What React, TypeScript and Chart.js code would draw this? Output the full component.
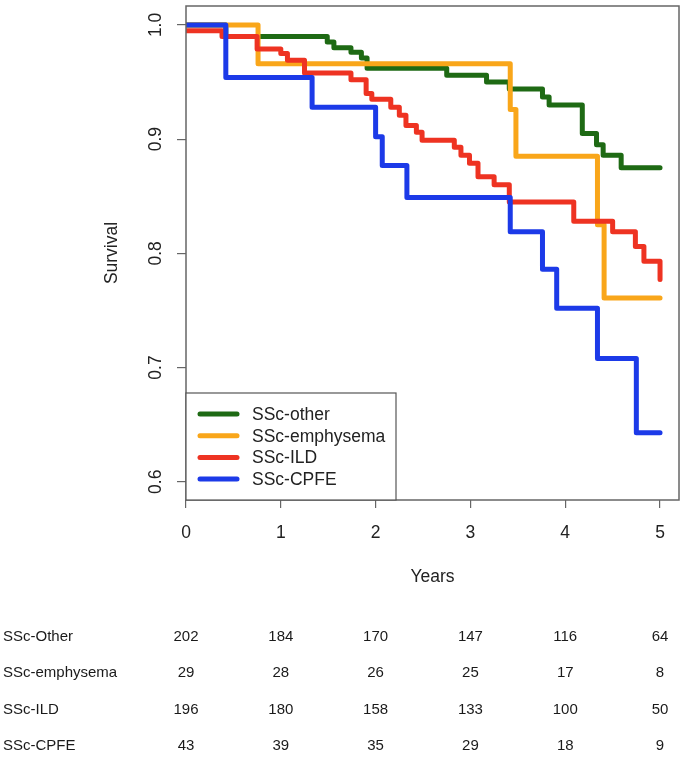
import { useEffect, useRef } from 'react';
import { Chart, registerables } from 'chart.js';

Chart.register(...registerables);

const groupNames = ['SSc-other', 'SSc-emphysema', 'SSc-ILD', 'SSc-CPFE'];
const groupColors = ['#1e6a14', '#f9a61a', '#ee3322', '#1c3ae8'];

// Kaplan-Meier steps: time (years) and survival after each step
const otherTimes = [0, 0.42, 1.49, 1.56, 1.74, 1.85, 1.91, 2.75, 3.17, 3.41, 3.76, 3.83, 4.18, 4.33, 4.4, 4.59, 5.0];
const otherSurv = [1.0, 0.99, 0.985, 0.98, 0.976, 0.971, 0.962, 0.956, 0.95, 0.944, 0.937, 0.93, 0.905, 0.895, 0.886, 0.875, 0.875];

const emphTimes = [0, 0.76, 3.42, 3.48, 4.34, 4.41, 5.0];
const emphSurv = [1.0, 0.966, 0.926, 0.885, 0.825, 0.761, 0.761];

const ildTimes = [0, 0.38, 0.75, 1.0, 1.07, 1.25, 1.74, 1.9, 1.96, 2.16, 2.25, 2.32, 2.43, 2.49, 2.83, 2.9, 2.99, 3.08, 3.25, 3.41, 4.09, 4.5, 4.74, 4.83, 5.0];
const ildSurv = [0.995, 0.99, 0.979, 0.975, 0.969, 0.958, 0.952, 0.94, 0.935, 0.928, 0.921, 0.912, 0.906, 0.899, 0.893, 0.886, 0.879, 0.867, 0.86, 0.845, 0.828, 0.819, 0.806, 0.793, 0.777];

const cpfeTimes = [0, 0.42, 1.33, 2.0, 2.07, 2.33, 3.42, 3.76, 3.91, 4.34, 4.75, 5.0];
const cpfeSurv = [1.0, 0.954, 0.928, 0.902, 0.877, 0.849, 0.819, 0.786, 0.752, 0.708, 0.643, 0.643];

const xTicks = [0, 1, 2, 3, 4, 5];
const yTicks = [0.6, 0.7, 0.8, 0.9, 1.0];
const yTickLabels = ['0.6', '0.7', '0.8', '0.9', '1.0'];

// numbers at risk
const riskLabels = ['SSc-Other', 'SSc-emphysema', 'SSc-ILD', 'SSc-CPFE'];
const riskOther = [202, 184, 170, 147, 116, 64];
const riskEmph = [29, 28, 26, 25, 17, 8];
const riskIld = [196, 180, 158, 133, 100, 50];
const riskCpfe = [43, 39, 35, 29, 18, 9];

const FONT = '"Liberation Sans", Arial, Helvetica, sans-serif';
const TEXT = '#222';

const toPoints = (t: number[], s: number[]) => t.map((x, i) => ({ x, y: s[i] }));

const decorPlugin = {
  id: 'kmDecor',
  afterDraw(chart: Chart) {
    const { ctx, chartArea } = chart;
    const xs = chart.scales.x;
    const ys = chart.scales.y;
    ctx.save();

    // frame
    ctx.strokeStyle = '#666';
    ctx.lineWidth = 1.5;
    ctx.strokeRect(chartArea.left, chartArea.top, chartArea.right - chartArea.left, chartArea.bottom - chartArea.top);

    ctx.fillStyle = TEXT;
    ctx.font = `17.5px ${FONT}`;
    ctx.textAlign = 'center';
    ctx.textBaseline = 'middle';

    // x tick labels
    xTicks.forEach((v) => {
      ctx.fillText(String(v), xs.getPixelForValue(v), 533);
    });
    // y tick labels, rotated like R
    yTicks.forEach((v, i) => {
      ctx.save();
      ctx.translate(156, ys.getPixelForValue(v));
      ctx.rotate(-Math.PI / 2);
      ctx.fillText(yTickLabels[i], 0, 0);
      ctx.restore();
    });

    // axis titles
    ctx.fillText('Years', (chartArea.left + chartArea.right) / 2, 577);
    ctx.save();
    ctx.translate(112, (chartArea.top + chartArea.bottom) / 2);
    ctx.rotate(-Math.PI / 2);
    ctx.fillText('Survival', 0, 0);
    ctx.restore();

    // legend box
    const lx = chartArea.left;
    const ly = 393;
    ctx.fillStyle = '#fff';
    ctx.fillRect(lx, ly, 210, chartArea.bottom - ly);
    ctx.strokeStyle = '#555';
    ctx.lineWidth = 1.2;
    ctx.strokeRect(lx, ly, 210, chartArea.bottom - ly);
    groupNames.forEach((name, i) => {
      const yy = 414 + i * 21.7;
      ctx.strokeStyle = groupColors[i];
      ctx.lineWidth = 5;
      ctx.lineCap = 'round';
      ctx.beginPath();
      ctx.moveTo(lx + 14, yy);
      ctx.lineTo(lx + 51, yy);
      ctx.stroke();
      ctx.fillStyle = TEXT;
      ctx.textAlign = 'left';
      ctx.fillText(name, lx + 66, yy + 1);
    });

    // numbers at risk table
    const rows = [riskOther, riskEmph, riskIld, riskCpfe];
    const rowY = [637, 673, 710, 746];
    ctx.font = `15px ${FONT}`;
    ctx.fillStyle = '#1a1a1a';
    rows.forEach((vals, r) => {
      ctx.textAlign = 'left';
      ctx.fillText(riskLabels[r], 3, rowY[r]);
      ctx.textAlign = 'center';
      vals.forEach((v, c) => {
        ctx.fillText(String(v), xs.getPixelForValue(xTicks[c]), rowY[r]);
      });
    });

    ctx.restore();
  },
};

export default function App() {
  const canvasRef = useRef<HTMLCanvasElement | null>(null);
  const chartRef = useRef<Chart | null>(null);

  useEffect(() => {
    const canvas = canvasRef.current;
    if (!canvas) return;
    if (chartRef.current) {
      chartRef.current.destroy();
      chartRef.current = null;
    }

    const series = [
      toPoints(otherTimes, otherSurv),
      toPoints(emphTimes, emphSurv),
      toPoints(ildTimes, ildSurv),
      toPoints(cpfeTimes, cpfeSurv),
    ];

    chartRef.current = new Chart(canvas, {
      type: 'line',
      data: {
        datasets: series.map((data, i) => ({
          label: groupNames[i],
          data,
          borderColor: groupColors[i],
          backgroundColor: groupColors[i],
          borderWidth: 5,
          stepped: 'before' as const,
          pointRadius: 0,
          fill: false,
          borderCapStyle: 'round' as const,
          borderJoinStyle: 'round' as const,
          order: 4 - i,
        })),
      },
      options: {
        animation: false,
        responsive: true,
        maintainAspectRatio: false,
        layout: { padding: { top: 6, right: 11, left: 0, bottom: 0 } },
        plugins: {
          legend: { display: false },
          tooltip: { enabled: false },
        },
        scales: {
          x: {
            type: 'linear',
            min: 0,
            max: 5.2,
            afterBuildTicks: (s) => {
              s.ticks = xTicks.map((value) => ({ value }));
            },
            afterFit: (s) => {
              s.height = 264;
            },
            ticks: { display: false },
            grid: { drawOnChartArea: false, drawTicks: true, tickLength: 8, color: '#666', lineWidth: 1.2 },
            border: { display: false },
          },
          y: {
            type: 'linear',
            min: 0.584,
            max: 1.0166,
            afterBuildTicks: (s) => {
              s.ticks = yTicks.map((value) => ({ value }));
            },
            afterFit: (s) => {
              s.width = 186;
            },
            ticks: { display: false },
            grid: { drawOnChartArea: false, drawTicks: true, tickLength: 9, color: '#666', lineWidth: 1.2 },
            border: { display: false },
          },
        },
      },
      plugins: [decorPlugin],
    });

    return () => {
      if (chartRef.current) {
        chartRef.current.destroy();
        chartRef.current = null;
      }
    };
  }, []);

  return (
    <div style={{ position: 'absolute', left: 0, top: 0, width: 690, height: 764, background: '#fff' }}>
      <canvas ref={canvasRef} />
    </div>
  );
}
